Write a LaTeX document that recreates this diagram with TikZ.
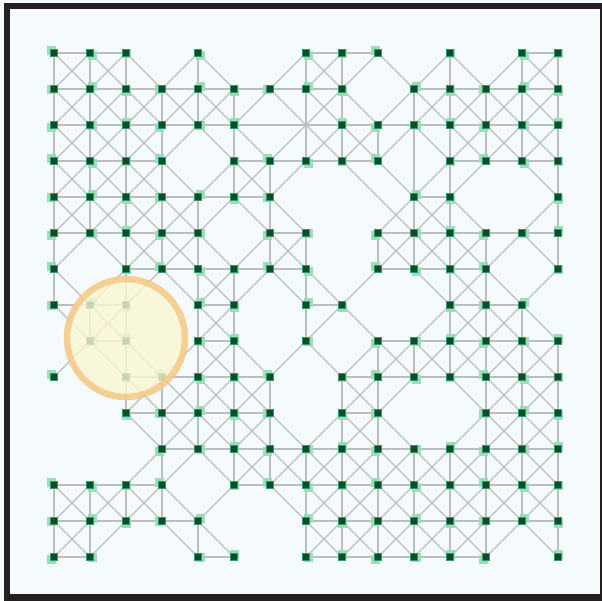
\documentclass[tikz,border=0pt]{standalone}
\usetikzlibrary{positioning, calc}
\definecolor{bgpaper}{HTML}{F5FBFC}
\definecolor{framegray}{HTML}{231F20}
\definecolor{bondgray}{HTML}{BBBEBE}
\definecolor{sitedark}{HTML}{0A4D29}
\definecolor{sitemid}{HTML}{2E9B62}
\definecolor{sitelight}{HTML}{9FD9BE}
\definecolor{spotfill}{HTML}{FBF6D2}
\definecolor{spotring}{HTML}{F6C887}

% occupied sites of the 15x15 lattice, row/columns
\def\siterows{0/{0,1,2,4,7,8,9,11,13,14},
  1/{0,1,2,3,4,5,6,7,8,10,11,12,13,14},
  2/{0,1,2,3,4,5,8,9,10,11,12,13,14},
  3/{0,1,2,3,5,6,7,8,9,11,12,13,14},
  4/{0,1,2,3,4,5,6,10,11,14},
  5/{0,1,2,3,4,6,7,9,10,11,12,13,14},
  6/{0,2,3,4,5,6,7,9,10,11,12,14},
  7/{0,1,2,4,5,7,8,11,12,13},
  8/{1,2,4,5,7,9,10,11,12,13,14},
  9/{0,2,3,4,5,6,8,9,10,11,12,13,14},
  10/{2,3,4,5,6,8,9,12,13,14},
  11/{3,4,5,6,7,8,9,10,11,12,13,14},
  12/{0,1,2,3,5,6,7,8,9,10,11,12,13,14},
  13/{0,1,2,3,4,7,8,9,10,11,12,13,14},
  14/{0,1,4,5,7,8,9,10,11,12,14}}
% crossings without a marker, and the bonds through them
\def\hiddensites{6/2,7/2,10/3,9/4}
\def\extrabonds{5-2/6-2, 6-2/7-2, 7-2/8-2, 7-1/7-2, 7-2/7-3, 6-1/7-2,
  7-2/8-3, 8-1/7-2, 7-2/6-3, 10-2/10-3, 10-3/10-4, 8-3/9-4, 9-4/10-5}

\tikzset{
  site/.style={rectangle, fill=sitedark, draw=sitemid, line width=0.9pt,
    minimum size=7pt, inner sep=0pt},
  halo/.style={rectangle, fill=sitelight, minimum size=9pt, inner sep=0pt},
  bond/.style={draw=bondgray, line width=1.1pt},
}

\begin{document}
\begin{tikzpicture}[x=1pt, y=-1pt]
  \useasboundingbox (0,0) rectangle (602,600);
  \fill[bgpaper] (0,0) rectangle (602,600);

  % lattice points
  \foreach \row/\cols in \siterows {
    \foreach \col in \cols {
      \coordinate (n-\col-\row) at (54+36*\col, 53+36*\row);
      \expandafter\gdef\csname on-\col-\row\endcsname{}
    }
  }
  \foreach \col/\row in \hiddensites
    \coordinate (n-\col-\row) at (54+36*\col, 53+36*\row);

  % bonds between neighbouring sites
  \foreach \col in {0,...,14} {
    \foreach \row in {0,...,14} {
      \ifcsname on-\col-\row\endcsname
        \pgfmathtruncatemacro\cright{\col+1}
        \pgfmathtruncatemacro\cleft{\col-1}
        \pgfmathtruncatemacro\rdown{\row+1}
        \ifcsname on-\cright-\row\endcsname
          \draw[bond] (n-\col-\row) -- (n-\cright-\row);
        \fi
        \ifcsname on-\col-\rdown\endcsname
          \draw[bond] (n-\col-\row) -- (n-\col-\rdown);
        \fi
        \ifcsname on-\cright-\rdown\endcsname
          \draw[bond] (n-\col-\row) -- (n-\cright-\rdown);
        \fi
        \ifcsname on-\cleft-\rdown\endcsname
          \draw[bond] (n-\col-\row) -- (n-\cleft-\rdown);
        \fi
      \fi
    }
  }
  \foreach \a/\b in \extrabonds
    \draw[bond] (n-\a) -- (n-\b);

  % markers
  \foreach \row/\cols in \siterows {
    \foreach \col in \cols {
      \pgfmathsetmacro\hx{2.5*(mod(\col*5+\row*3,3)-1)}
      \pgfmathsetmacro\hy{2.5*(mod(\col*2+\row*7,3)-1)}
      \node[halo] at ($(n-\col-\row)+(\hx,\hy)$) {};
      \node[site] (m-\col-\row) at (n-\col-\row) {};
    }
  }

  % highlighted spot
  \node[circle, minimum size=118pt, inner sep=0pt, fill=spotfill,
    fill opacity=0.8, draw=spotring, draw opacity=0.85, line width=6.5pt]
    (spot) at (126,338) {};

  % frame
  \draw[framegray, line width=6.5pt] (7,6) rectangle (603.5,597.5);
\end{tikzpicture}
\end{document}
